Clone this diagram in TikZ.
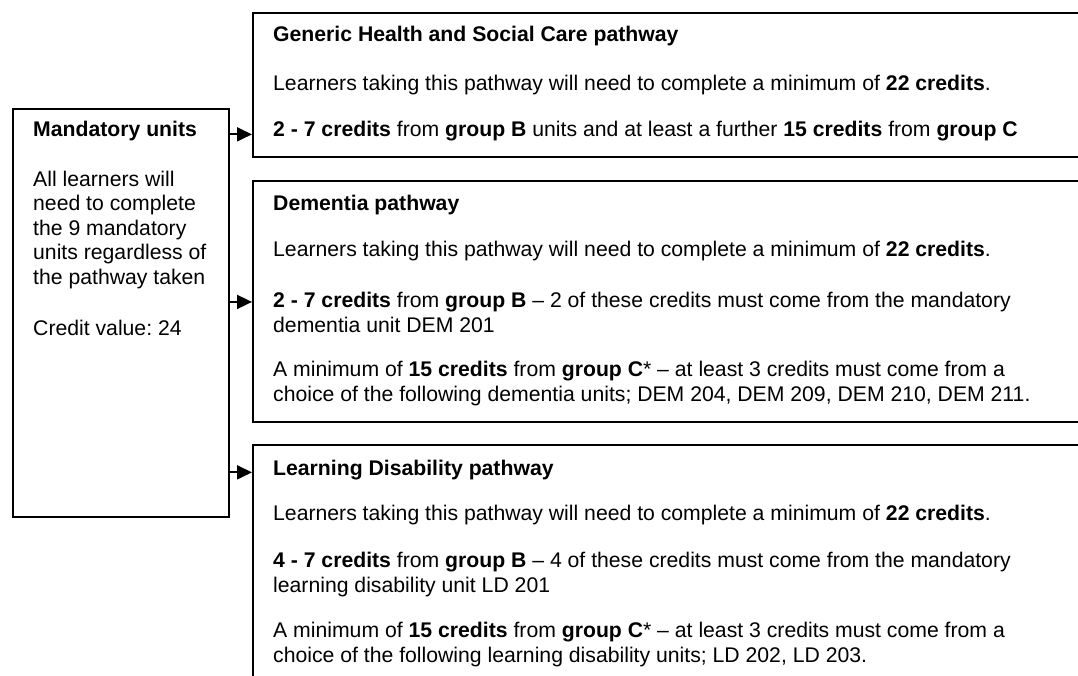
\documentclass[tikz,border=0pt]{standalone}
\usepackage{fontspec}
\setmainfont{Liberation Sans}
\usetikzlibrary{arrows.meta}
\frenchspacing

\tikzset{
  unitbox/.style={draw,line width=1.8pt,inner sep=0pt,anchor=north west},
  % base anchor of a multi-line node sits on its last line
  txt/.style={anchor=base west,inner sep=0pt,align=left,font=\fontsize{21.2}{24.5}\selectfont},
  head/.style={txt,font=\fontsize{21.2}{24.5}\selectfont\bfseries},
  feed/.style={line width=1.8pt,-{Triangle[length=15pt,width=14pt]}}
}

\begin{document}
\begin{tikzpicture}[x=1pt,y=-1pt]
\useasboundingbox (0,0) rectangle (1078,676);
\clip (0,0) rectangle (1078,676);

% the three pathway boxes run on past the right margin
\node[unitbox,minimum width=216pt,minimum height=408pt] (mand) at (12,108) {};
\node[unitbox,minimum width=900pt,minimum height=144pt] (gen) at (252,12) {};
\node[unitbox,minimum width=900pt,minimum height=241pt] (dem) at (252,180) {};
\node[unitbox,minimum width=900pt,minimum height=300pt] (ld) at (252,444) {};

% mandatory units
\node[head] (mandT) at (33,137) {Mandatory units};
\node[txt] (mandA) at (33,284) {All learners will\\need to complete\\the 9 mandatory\\units regardless of\\the pathway taken};
\node[txt] (mandV) at (33,335) {Credit value: 24};

% generic pathway
\node[head] (genT) at (273,42) {Generic Health and Social Care pathway};
\node[txt] (genA) at (273,91) {Learners taking this pathway will need to complete a minimum of \textbf{22 credits}.};
\node[txt] (genB) at (273,137) {\textbf{2 - 7 credits} from \textbf{group B} units and at least a further \textbf{15 credits} from \textbf{group C}};

% dementia pathway
\node[head] (demT) at (273,211) {Dementia pathway};
\node[txt] (demA) at (273,257) {Learners taking this pathway will need to complete a minimum of \textbf{22 credits}.};
\node[txt] (demB) at (273,332) {\textbf{2 - 7 credits} from \textbf{group B} \textendash{} 2 of these credits must come from the mandatory\\dementia unit DEM 201};
\node[txt] (demC) at (273,401) {A minimum of \textbf{15 credits} from \textbf{group C}* \textendash{} at least 3 credits must come from a\\choice of the following dementia units; DEM 204, DEM 209, DEM 210, DEM 211.};

% learning disability pathway
\node[head] (ldT) at (273,475) {Learning Disability pathway};
\node[txt] (ldA) at (273,520) {Learners taking this pathway will need to complete a minimum of \textbf{22 credits}.};
\node[txt] (ldB) at (273,592) {\textbf{4 - 7 credits} from \textbf{group B} \textendash{} 4 of these credits must come from the mandatory\\learning disability unit LD 201};
\node[txt] (ldC) at (273,662) {A minimum of \textbf{15 credits} from \textbf{group C}* \textendash{} at least 3 credits must come from a\\choice of the following learning disability units; LD 202, LD 203.};

% arrows into each pathway
\draw[feed] (mand.east |- genB.mid) -- (gen.west |- genB.mid);
\draw[feed] ([yshift=-10pt]mand.east |- demB.north) -- ([yshift=-10pt]dem.west |- demB.north);
\draw[feed] (mand.east |- ldT.mid) -- (ld.west |- ldT.mid);
\end{tikzpicture}
\end{document}
